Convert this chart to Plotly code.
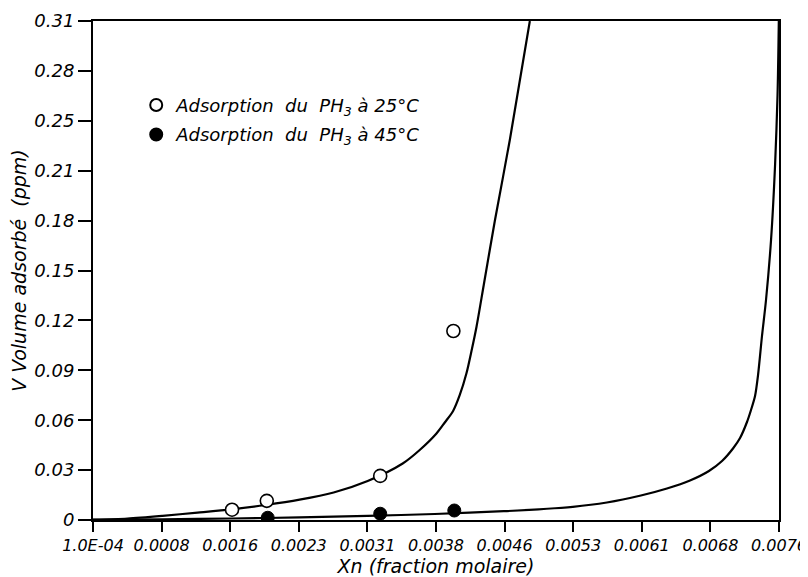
import plotly.graph_objects as go

# Experimental points
x_exp_25 = [0.00162, 0.00200, 0.00324, 0.00404]
y_exp_25 = [0.0064, 0.0119, 0.0274, 0.1174]
x_exp_45 = [0.00201, 0.00324, 0.00405]
y_exp_45 = [0.0014, 0.0039, 0.0059]

# Fitted curves
x_fit_25 = [0.000100, 0.000477, 0.000860, 0.001243, 0.001615, 0.001987, 0.002359,
            0.002731, 0.003103, 0.003486, 0.003672, 0.003855, 0.003946, 0.004037,
            0.004110, 0.004183, 0.004238, 0.004293, 0.004372, 0.004493, 0.004657,
            0.004876]
y_fit_25 = [0.00019, 0.00093, 0.00261, 0.00460, 0.00665, 0.00932, 0.01261,
            0.01708, 0.02423, 0.03510, 0.04349, 0.05374, 0.06057, 0.06772,
            0.07766, 0.09114, 0.10499, 0.12009, 0.14599, 0.18575, 0.23607,
            0.31000]
x_fit_45 = [0.000100, 0.000860, 0.001615, 0.002359, 0.003103, 0.003836, 0.004591,
            0.005346, 0.005718, 0.006090, 0.006375, 0.006627, 0.006834, 0.006977,
            0.007097, 0.007174, 0.007250, 0.007294, 0.007338, 0.007371, 0.007414,
            0.007458, 0.007513, 0.007557, 0.007584, 0.007598]
y_fit_45 = [0.00012, 0.00043, 0.00093, 0.00162, 0.00255, 0.00373, 0.00547,
            0.00820, 0.01087, 0.01522, 0.01957, 0.02454, 0.03044, 0.03665,
            0.04442, 0.05094, 0.06088, 0.06834, 0.07703, 0.09008, 0.11431,
            0.13667, 0.17395, 0.22054, 0.26403, 0.31000]

x_tickvals = [round(0.0001 + 0.00075 * k, 6) for k in range(11)]
x_ticktext = ["1.0E-04", "0.0008", "0.0016", "0.0023", "0.0031", "0.0038",
              "0.0046", "0.0053", "0.0061", "0.0068", "0.0076"]
y_tickvals = [round(0.031 * k, 4) for k in range(11)]
y_ticktext = ["0", "0.03", "0.06", "0.09", "0.12", "0.15", "0.18", "0.21",
              "0.25", "0.28", "0.31"]

FONT = "DejaVu Sans"
NB = "\u00a0"

fig = go.Figure()
for xs, ys in ((x_fit_25, y_fit_25), (x_fit_45, y_fit_45)):
    fig.add_trace(go.Scatter(x=xs, y=ys, mode="lines",
                             line=dict(color="black", width=2.2, shape="spline", smoothing=0.8),
                             showlegend=False, hoverinfo="skip"))
fig.add_trace(go.Scatter(x=x_exp_25, y=y_exp_25, mode="markers",
                         name="Adsorption" + NB * 2 + "du" + NB * 2 + "PH<sub>3</sub> à 25°C",
                         legendgroup="a",
                         marker=dict(symbol="circle", size=13, color="white",
                                     line=dict(color="black", width=1.6))))
fig.add_trace(go.Scatter(x=x_exp_45, y=y_exp_45, mode="markers",
                         name="Adsorption" + NB * 2 + "du" + NB * 2 + "PH<sub>3</sub> à 45°C",
                         legendgroup="b",
                         marker=dict(symbol="circle", size=13, color="black",
                                     line=dict(color="black", width=1))))

axis_common = dict(showgrid=False, zeroline=False, showline=True, linecolor="black",
                   linewidth=2, mirror=True, ticks="outside", tickwidth=2,
                   tickcolor="black", automargin=False)

fig.update_xaxes(range=[0.0001, 0.0076], tickmode="array", tickvals=x_tickvals,
                 ticktext=x_ticktext, title_text="Xn (fraction molaire)", ticklen=10,
                 ticklabeloverflow="allow",
                 tickfont=dict(family=FONT, size=16, color="black", style="italic"),
                 title_font=dict(family=FONT, size=19, color="black", style="italic"),
                 title_standoff=7, **axis_common)
fig.update_yaxes(range=[0, 0.31], tickmode="array", tickvals=y_tickvals,
                 ticktext=y_ticktext, title_text="V Volume adsorbé" + NB * 2 + "(ppm)",
                 ticklen=13,
                 tickfont=dict(family=FONT, size=18, color="black", style="italic"),
                 title_font=dict(family=FONT, size=19, color="black", style="italic"),
                 title_standoff=4, **axis_common)

# The page body adds an 8px offset; the plot area is kept at the reference position
fig.update_layout(
    width=816, height=569,
    margin=dict(l=85, r=45, t=13, b=57),
    paper_bgcolor="white", plot_bgcolor="white",
    font=dict(family=FONT, color="black"),
    legend=dict(x=0.063, y=0.868, xanchor="left", yanchor="top",
                font=dict(family=FONT, size=18, color="black", style="italic"),
                bgcolor="rgba(0,0,0,0)", tracegroupgap=3, itemsizing="constant"),
)

fig.write_html("out.html")
